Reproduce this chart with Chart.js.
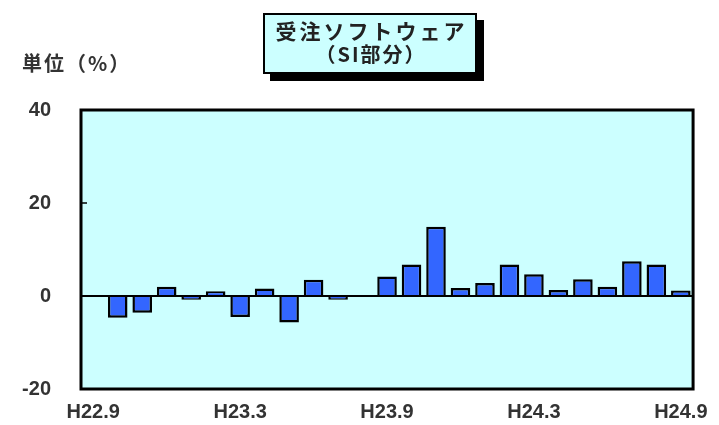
<!DOCTYPE html>
<html lang="ja">
<head>
<meta charset="utf-8">
<script src="https://cdn.jsdelivr.net/npm/chart.js@4/dist/chart.umd.min.js"></script>
<style>
  body { margin: 0; background: #fff; }
  #wrap { position: relative; width: 719px; height: 425px; }
  #titleBox {
    position: absolute; left: 263px; top: 13px; width: 210px; height: 54px;
    background: #ccffff; border: 2px solid #000; box-shadow: 7px 7px 0 #000;
    font-family: "Noto Sans CJK JP", sans-serif; font-weight: bold; color: #222;
    text-align: center; line-height: 24px; padding-top: 3px;
  }
  #titleBox .l1 { font-size: 21px; letter-spacing: 3px; margin-left: 3px; }
  #titleBox .l2 { font-size: 20px; letter-spacing: 2px; margin-left: 2px; }
  #unit {
    position: absolute; left: 22px; top: 48px;
    font-family: "Noto Sans CJK JP", sans-serif; font-weight: bold; font-size: 20px;
    color: #333; letter-spacing: 2px;
  }
</style>
</head>
<body>
<div id="wrap">
  <canvas id="chart" width="719" height="425"></canvas>
  <div id="titleBox"><div class="l1">受注ソフトウェア</div><div class="l2">（SI部分）</div></div>
  <div id="unit">単位（%）</div>
</div>
<script>
// 受注ソフトウェア(SI部分) 前年同月比

const months = [
  "H22.9", "H22.10", "H22.11", "H22.12",
  "H23.1", "H23.2", "H23.3", "H23.4", "H23.5", "H23.6", "H23.7", "H23.8",
  "H23.9", "H23.10", "H23.11", "H23.12",
  "H24.1", "H24.2", "H24.3", "H24.4", "H24.5", "H24.6", "H24.7", "H24.8", "H24.9"
];
const values = [
  0, -4.7, -3.6, 2.0, -0.8, 1.0, -4.5, 1.6, -5.7, 3.5, -0.8, 0,
  4.2, 6.8, 14.9, 1.7, 2.8, 6.8, 4.7, 1.3, 3.6, 2.0, 7.5, 6.8, 1.2
];
const shownLabels = ["H22.9", "H23.3", "H23.9", "H24.3", "H24.9"];
const yTicks = [40, 20, 0, -20];

// fond cyan + cadre noir + petites graduations vers l'intérieur
const plotFrame = {
  id: "plotFrame",
  beforeDraw(chart) {
    const { ctx, chartArea: a } = chart;
    ctx.save();
    ctx.fillStyle = "#ccffff";
    ctx.fillRect(a.left, a.top, a.right - a.left, a.bottom - a.top);
    ctx.restore();
  },
  afterDraw(chart) {
    const { ctx, chartArea: a } = chart;
    const y = chart.scales.y;
    ctx.save();
    ctx.strokeStyle = "#000";
    ctx.lineWidth = 3;
    ctx.strokeRect(a.left, a.top, a.right - a.left, a.bottom - a.top);
    ctx.lineWidth = 1.5;
    yTicks.forEach((v) => {
      const py = y.getPixelForValue(v);
      ctx.beginPath();
      ctx.moveTo(a.left, py);
      ctx.lineTo(a.left + 6, py);
      ctx.stroke();
    });
    ctx.restore();
  },
};

new Chart(document.getElementById("chart"), {
  type: "bar",
  data: {
    labels: months,
    datasets: [
      {
        data: values,
        backgroundColor: "#3366ff",
        borderColor: "#000",
        borderWidth: 2.5,
        barPercentage: 0.8,
        categoryPercentage: 1,
      },
    ],
  },
  options: {
    responsive: false,
    animation: false,
    layout: { padding: { top: 110, right: 24, left: 0, bottom: 0 } },
    plugins: { legend: { display: false }, tooltip: { enabled: false } },
    scales: {
      x: {
        border: { display: false },
        grid: { display: false, drawTicks: false },
        ticks: {
          autoSkip: false,
          maxRotation: 0,
          padding: 11,
          color: "#333",
          font: { family: "Liberation Sans", size: 20, weight: "bold" },
          callback(v, i) {
            const l = months[i];
            return shownLabels.includes(l) ? l : "";
          },
        },
        afterFit(s) { s.height = 36; },
      },
      y: {
        min: -20,
        max: 40,
        afterBuildTicks(s) { s.ticks = yTicks.map((v) => ({ value: v })); },
        border: { display: false },
        grid: {
          drawTicks: true,
          tickLength: 26,
          tickColor: "rgba(0,0,0,0)",
          color: (c) => (c.tick && c.tick.value === 0 ? "#000" : "rgba(0,0,0,0)"),
          lineWidth: 2,
        },
        ticks: {
          padding: 4,
          color: "#333",
          font: { family: "Liberation Sans", size: 20, weight: "bold" },
        },
        afterFit(s) { s.width = 81; },
      },
    },
  },
  plugins: [plotFrame],
});
</script>
</body>
</html>
